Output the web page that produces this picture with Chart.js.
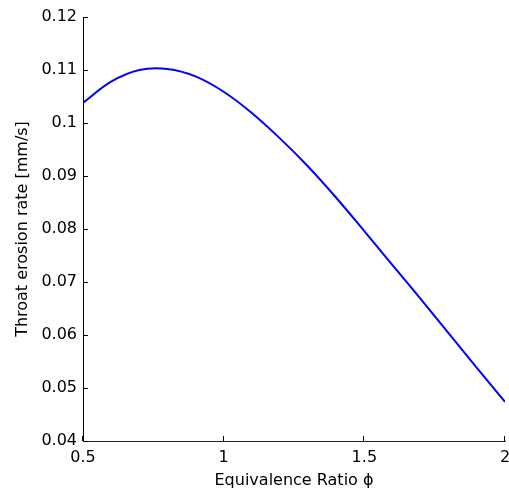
<!DOCTYPE html>
<html>
<head>
<meta charset="utf-8">
<title>Throat erosion rate</title>
<script src="https://cdn.jsdelivr.net/npm/chart.js@4/dist/chart.umd.min.js"></script>
<style>
  html, body { margin: 0; padding: 0; background: #fff; }
  #erosionChart { display: block; }
</style>
</head>
<body>
<canvas id="erosionChart" width="509" height="491"></canvas>
<script>
/* =========================================================
   Throat erosion rate vs equivalence ratio
   ========================================================= */

// ─── Data ────────────────────────────────────────────────
const phiValues = [0.5, 0.6, 0.7, 0.8, 0.9, 1.0, 1.1, 1.2, 1.3, 1.4, 1.5, 1.6, 1.7, 1.8, 1.9, 2.0];
const erosionRate = [0.1038, 0.1078, 0.1100, 0.1102, 0.1088, 0.1059, 0.1019, 0.0971, 0.0918, 0.0859, 0.0796, 0.0732, 0.0668, 0.0603, 0.0538, 0.0474];

const xTicks = [0.5, 1, 1.5, 2];
const yTicks = [0.04, 0.05, 0.06, 0.07, 0.08, 0.09, 0.1, 0.11, 0.12];

const FONT = { family: '"DejaVu Sans", sans-serif', size: 16 };

document.addEventListener('DOMContentLoaded', () => {
  renderErosionChart();
});

// ─── Inward tick marks (MATLAB style) ─────────────────────
const inwardTicks = {
  id: 'inwardTicks',
  afterDraw(chart) {
    const { ctx, chartArea, scales } = chart;
    const len = 5;
    ctx.save();
    ctx.strokeStyle = '#000';
    ctx.lineWidth = 1;
    ctx.beginPath();
    xTicks.forEach(v => {
      const px = Math.round(scales.x.getPixelForValue(v)) - 0.5;
      ctx.moveTo(px, chartArea.bottom);
      ctx.lineTo(px, chartArea.bottom - len);
    });
    yTicks.forEach(v => {
      const py = Math.round(scales.y.getPixelForValue(v)) + 0.5;
      ctx.moveTo(chartArea.left, py);
      ctx.lineTo(chartArea.left + len, py);
    });
    ctx.stroke();
    ctx.restore();
  },
};

// ─── Chart ────────────────────────────────────────────────
function renderErosionChart() {
  const ctx = document.getElementById('erosionChart');
  if (!ctx) return;

  const points = phiValues.map((x, i) => ({ x, y: erosionRate[i] }));

  new Chart(ctx, {
    type: 'line',
    data: {
      datasets: [{
        data: points,
        borderColor: '#0000ff',
        borderWidth: 2,
        pointRadius: 0,
        fill: false,
        tension: 0.4,
      }],
    },
    options: {
      responsive: false,
      animation: false,
      layout: { padding: { top: 17, right: 4, left: 0, bottom: 0 } },
      plugins: {
        legend: { display: false },
        tooltip: { enabled: false },
      },
      scales: {
        x: {
          type: 'linear',
          min: xTicks[0],
          max: xTicks[xTicks.length - 1],
          afterBuildTicks: s => { s.ticks = xTicks.map(v => ({ value: v })); },
          afterFit: s => { s.height = 50; s.paddingLeft = 0; s.paddingRight = 0; },
          grid: { display: false, drawTicks: false },
          border: { display: true, color: '#222', width: 1 },
          ticks: {
            color: '#000', font: FONT, padding: 7, maxRotation: 0,
            callback: v => String(+v.toFixed(1)),
          },
          title: {
            display: true, text: 'Equivalence Ratio ϕ',
            color: '#000', font: FONT, padding: { top: 0, bottom: 1 },
          },
        },
        y: {
          min: yTicks[0],
          max: yTicks[yTicks.length - 1],
          afterBuildTicks: s => { s.ticks = yTicks.map(v => ({ value: v })); },
          afterFit: s => { s.width = 83; s.paddingTop = 0; s.paddingBottom = 0; },
          grid: { display: false, drawTicks: false },
          border: { display: true, color: '#000', width: 1 },
          ticks: {
            color: '#000', font: FONT, padding: 6,
            callback: v => String(+v.toFixed(2)),
          },
          title: {
            display: true, text: 'Throat erosion rate [mm/s]',
            color: '#000', font: FONT, padding: { top: 13, bottom: 0 },
          },
        },
      },
    },
    plugins: [inwardTicks],
  });
}
</script>
</body>
</html>
